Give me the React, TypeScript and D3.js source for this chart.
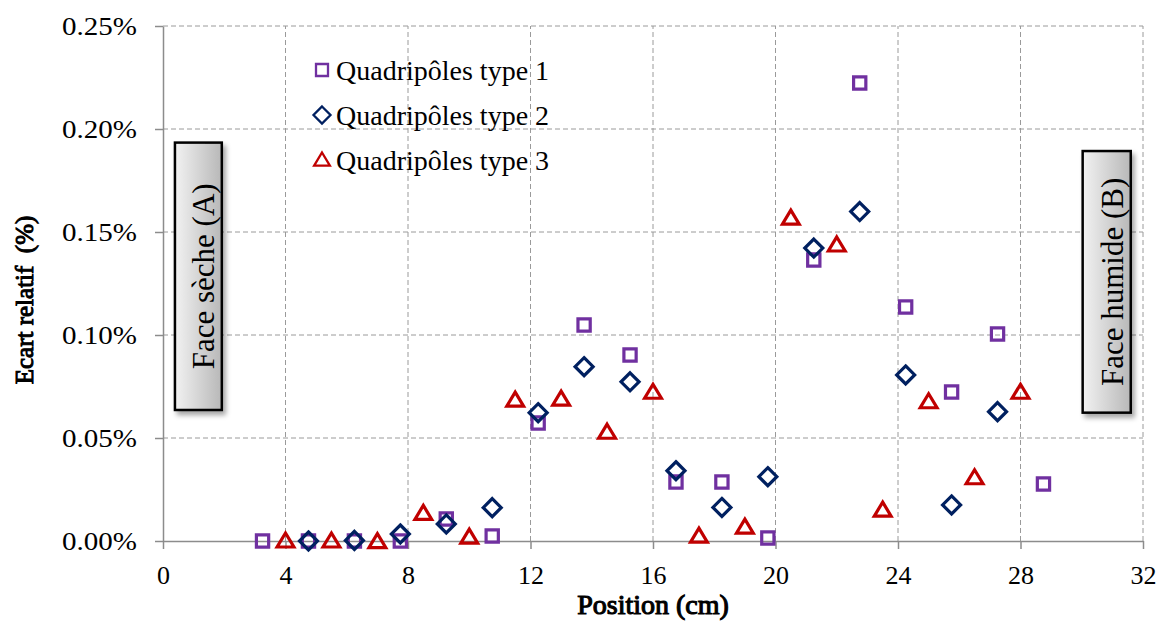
import React, { useEffect, useRef } from 'react';
import * as d3 from 'd3';

const pos1 = [3.25, 4.75, 6.25, 7.75, 9.25, 10.75, 12.25, 13.75, 15.25, 16.75, 18.25, 19.75, 21.25, 22.75, 24.25, 25.75, 27.25, 28.75];
const val1 = [0, 0, 0, 0, 0.0107, 0.0024, 0.0573, 0.1049, 0.0903, 0.0286, 0.0286, 0.0015, 0.1364, 0.2223, 0.1136, 0.0723, 0.1005, 0.0277];

const pos2 = [4.75, 6.25, 7.75, 9.25, 10.75, 12.25, 13.75, 15.25, 16.75, 18.25, 19.75, 21.25, 22.75, 24.25, 25.75, 27.25];
const val2 = [0, 0.0003, 0.0034, 0.0083, 0.0162, 0.0623, 0.0846, 0.0773, 0.0341, 0.0163, 0.0312, 0.1422, 0.1599, 0.0806, 0.0175, 0.0628];

const pos3 = [4, 5.5, 7, 8.5, 10, 11.5, 13, 14.5, 16, 17.5, 19, 20.5, 22, 23.5, 25, 26.5, 28];
const val3 = [0, 0, -0.0003, 0.0134, 0.0019, 0.0684, 0.0689, 0.0528, 0.0722, 0.0024, 0.0067, 0.1567, 0.1437, 0.015, 0.0676, 0.0307, 0.0722];

const seriesNames = ['Quadripôles type 1', 'Quadripôles type 2', 'Quadripôles type 3'];
const seriesColors = ['#7030A0', '#002060', '#C00000'];
const xTicks = [0, 4, 8, 12, 16, 20, 24, 28, 32];
const yTicks = [0, 0.05, 0.1, 0.15, 0.2, 0.25];

const FONT = 'Liberation Serif';

const Chart: React.FC = () => {
  const svgRef = useRef<SVGSVGElement>(null);

  useEffect(() => {
    if (!svgRef.current) return;
    const svg = d3.select(svgRef.current);
    svg.selectAll('*').remove();

    const W = 1165, H = 622;
    const margin = { top: 26, right: 22, bottom: 81, left: 163 };
    const x = d3.scaleLinear().domain([0, 32]).range([margin.left, W - margin.right]);
    const y = d3.scaleLinear().domain([0, 0.25]).range([H - margin.bottom, margin.top]);

    svg.attr('width', W).attr('height', H);

    const defs = svg.append('defs');
    const grad = defs.append('linearGradient').attr('id', 'boxGrad').attr('x1', '0%').attr('x2', '100%');
    grad.append('stop').attr('offset', '0%').attr('stop-color', '#f2f2f2');
    grad.append('stop').attr('offset', '100%').attr('stop-color', '#b8b8b8');
    const filt = defs.append('filter').attr('id', 'shadow').attr('x', '-30%').attr('y', '-10%').attr('width', '160%').attr('height', '130%');
    filt.append('feDropShadow').attr('dx', 3).attr('dy', 4).attr('stdDeviation', 2.5).attr('flood-color', '#000').attr('flood-opacity', 0.35);

    // grille pointillée
    const grid = svg.append('g');
    grid.selectAll('line.h')
      .data(yTicks.filter(d => d > 0))
      .join('line')
      .attr('x1', x(0)).attr('x2', x(32))
      .attr('y1', d => y(d)).attr('y2', d => y(d))
      .attr('stroke', '#9a9a9a').attr('stroke-width', 1).attr('stroke-dasharray', '5,3');
    grid.selectAll('line.v')
      .data(xTicks.filter(d => d > 0))
      .join('line')
      .attr('y1', y(0)).attr('y2', y(0.25))
      .attr('x1', d => x(d)).attr('x2', d => x(d))
      .attr('stroke', '#9a9a9a').attr('stroke-width', 1).attr('stroke-dasharray', '5,3');

    // axes
    const xAxis = svg.append('g')
      .attr('transform', `translate(0,${y(0)})`)
      .call(d3.axisBottom(x).tickValues(xTicks).tickSize(8).tickSizeOuter(0).tickFormat(d3.format('d')));
    const yAxis = svg.append('g')
      .attr('transform', `translate(${x(0)},0)`)
      .call(d3.axisLeft(y).tickValues(yTicks).tickSize(8).tickSizeOuter(0).tickFormat(d => (+d).toFixed(2) + '%'));
    [xAxis, yAxis].forEach(a => {
      a.attr('font-family', null);
      a.select('.domain').attr('stroke', '#8c8c8c').attr('stroke-width', 1.5);
      a.selectAll('.tick line').attr('stroke', '#8c8c8c').attr('stroke-width', 1.5);
      a.selectAll('.tick text').style('font-family', FONT).style('font-size', '26px').attr('fill', '#000');
    });
    xAxis.selectAll('.tick text').attr('y', 43).attr('dy', 0);
    yAxis.selectAll('.tick text')
      .attr('x', -26).attr('dy', '0.35em')
      .style('font-size', '25px')
      .attr('textLength', 75).attr('lengthAdjust', 'spacingAndGlyphs');

    // titres des axes (gras simulé par un contour)
    svg.append('text')
      .attr('x', x(16)).attr('y', 614)
      .attr('text-anchor', 'middle')
      .style('font-family', FONT).style('font-size', '28px')
      .attr('stroke', '#000').attr('stroke-width', 1.1)
      .text('Position (cm)');
    svg.append('text')
      .attr('transform', `translate(33,300) rotate(-90)`)
      .attr('text-anchor', 'middle')
      .style('font-family', FONT).style('font-size', '25px')
      .attr('stroke', '#000').attr('stroke-width', 1)
      .style('white-space', 'pre')
      .text('Ecart relatif  (%)');

    // encadrés latéraux
    const boxes = [
      { x0: 0.39, x1: 1.92, y0: 0.1934, y1: 0.0636, label: 'Face sèche (A)' },
      { x0: 30.03, x1: 31.6, y0: 0.1893, y1: 0.0623, label: 'Face humide (B)' },
    ];
    boxes.forEach(b => {
      const bx = x(b.x0), bw = x(b.x1) - x(b.x0);
      const by = y(b.y0), bh = y(b.y1) - y(b.y0);
      svg.append('rect')
        .attr('x', bx).attr('y', by).attr('width', bw).attr('height', bh)
        .attr('fill', 'url(#boxGrad)').attr('stroke', '#000').attr('stroke-width', 2.5)
        .attr('filter', 'url(#shadow)');
      svg.append('text')
        .attr('transform', `translate(${bx + bw / 2 + 16},${by + bh / 2}) rotate(-90)`)
        .attr('text-anchor', 'middle')
        .style('font-family', FONT).style('font-size', '31px')
        .text(b.label);
    });

    // marqueurs
    const square = d3.symbol().type(d3.symbolSquare).size(150);
    const diamond = (s: number) => `M0,${-s}L${s},0L0,${s}L${-s},0Z`;
    const triangle = (s: number) => `M0,${-s}L${s * 1.05},${s * 0.75}L${-s * 1.05},${s * 0.75}Z`;

    const g = svg.append('g');
    g.selectAll('path.s1')
      .data(pos1.map((p, i) => ({ p, v: val1[i] })))
      .join('path')
      .attr('d', square()!)
      .attr('transform', d => `translate(${x(d.p)},${y(d.v)})`)
      .attr('fill', 'none').attr('stroke', seriesColors[0]).attr('stroke-width', 3.2);
    g.selectAll('path.s2')
      .data(pos2.map((p, i) => ({ p, v: val2[i] })))
      .join('path')
      .attr('d', diamond(9))
      .attr('transform', d => `translate(${x(d.p)},${y(d.v)})`)
      .attr('fill', 'none').attr('stroke', seriesColors[1]).attr('stroke-width', 3.2);
    g.selectAll('path.s3')
      .data(pos3.map((p, i) => ({ p, v: val3[i] })))
      .join('path')
      .attr('d', triangle(8))
      .attr('transform', d => `translate(${x(d.p)},${y(d.v)})`)
      .attr('fill', 'none').attr('stroke', seriesColors[2]).attr('stroke-width', 3.2);

    // légende
    const legend = svg.append('g');
    const legendShapes = [d3.symbol().type(d3.symbolSquare).size(144)()!, diamond(8.5), triangle(7.5)];
    seriesNames.forEach((name, i) => {
      const ly = 70 + i * 45;
      legend.append('path')
        .attr('d', legendShapes[i])
        .attr('transform', `translate(322,${ly})`)
        .attr('fill', 'none').attr('stroke', seriesColors[i]).attr('stroke-width', 2.3);
      legend.append('text')
        .attr('x', 336).attr('y', ly).attr('dy', '0.35em')
        .style('font-family', FONT).style('font-size', '28px')
        .text(name);
    });
  }, []);

  return <svg ref={svgRef} style={{ display: 'block' }}></svg>;
};

const App = () => (
  <div style={{ position: 'absolute', left: 0, top: 0, background: '#fff' }}>
    <Chart />
  </div>
);

export default App;
